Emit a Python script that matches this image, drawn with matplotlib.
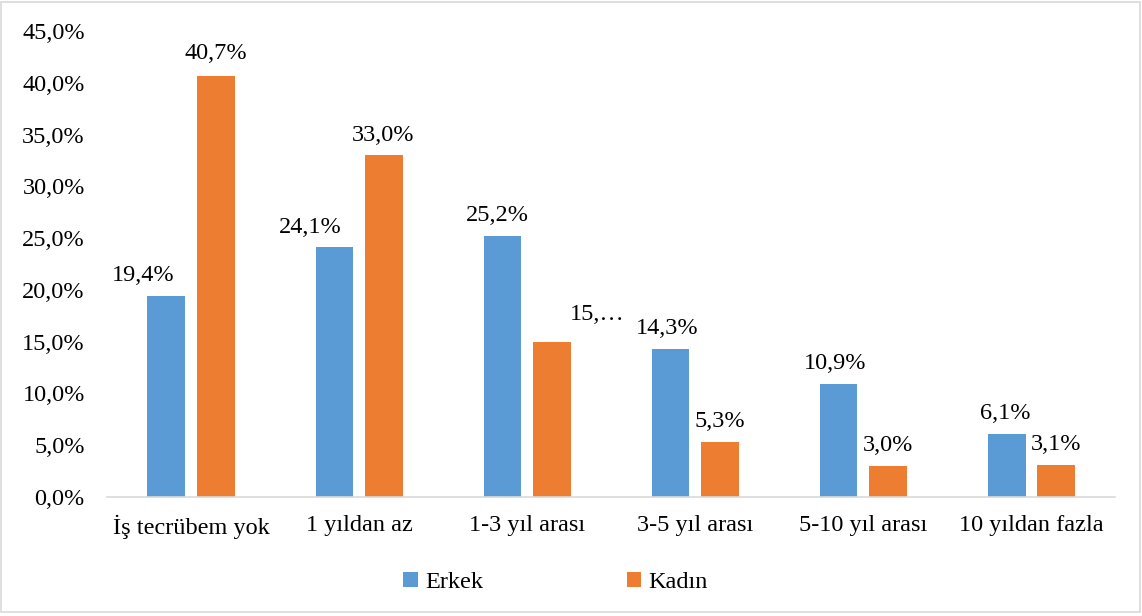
import matplotlib
matplotlib.use("Agg")
import matplotlib.pyplot as plt
from matplotlib.patches import Rectangle
import numpy as np

kategoriler = ["İş tecrübem yok", "1 yıldan az", "1-3 yıl arası",
               "3-5 yıl arası", "5-10 yıl arası", "10 yıldan fazla"]
erkek = [19.4, 24.1, 25.2, 14.3, 10.9, 6.1]
kadin = [40.7, 33.0, 15.0, 5.3, 3.0, 3.1]
erkek_etiket = ["19,4%", "24,1%", "25,2%", "14,3%", "10,9%", "6,1%"]
kadin_etiket = ["40,7%", "33,0%", "15,…", "5,3%", "3,0%", "3,1%"]
y_ticks = [0, 5, 10, 15, 20, 25, 30, 35, 40, 45]

plt.rcParams['font.family'] = ['Liberation Serif', 'DejaVu Serif']
fs = 17.5
mavi = '#5B9BD5'
turuncu = '#ED7D31'

fig = plt.figure(figsize=(11.42, 6.16), dpi=100)
ax = fig.add_axes([0.0937, 0.1932, 0.8827, 0.7565])

x = np.arange(len(kategoriler))
w = 0.226
off = 0.146
ax.bar(x - off, erkek, w, color=mavi, label='Erkek')
ax.bar(x + off, kadin, w, color=turuncu, label='Kadın')

# etiketlerin elle kaydirilmasi (orijinaldeki gibi)
erkek_dx = [-0.137, -0.143, -0.03, -0.018, -0.018, -0.006]
kadin_dx = [0.0, 0.0, 0.27, 0.0, 0.0, 0.0]
kadin_dy = [8, 7, 12, 7, 7, 7]

for i in range(len(x)):
    ax.annotate(erkek_etiket[i], (x[i] - off + erkek_dx[i], erkek[i]), xytext=(0, 7),
                textcoords='offset points', ha='center', va='bottom', fontsize=fs)
    ax.annotate(kadin_etiket[i], (x[i] + off + kadin_dx[i], kadin[i]), xytext=(0, kadin_dy[i]),
                textcoords='offset points', ha='center', va='bottom', fontsize=fs)

ax.set_xlim(-0.5, len(x) - 0.5)
ax.set_ylim(0, 45)
ax.set_yticks(y_ticks)
ax.set_yticklabels([f"{v:.1f}%".replace('.', ',') for v in y_ticks], fontsize=fs)
ax.set_xticks(x)
ax.set_xticklabels(kategoriler, fontsize=fs)
ax.tick_params(axis='y', length=0, pad=16)
ax.tick_params(axis='x', length=0, pad=13)
for s in ['top', 'right', 'left']:
    ax.spines[s].set_visible(False)
ax.spines['bottom'].set_color('#D9D9D9')
ax.spines['bottom'].set_linewidth(1.2)

ax.legend(loc='center', bbox_to_anchor=(0.445, -0.183), ncol=2, frameon=False,
          fontsize=fs, handlelength=0.6, handleheight=0.6, handletextpad=0.3,
          columnspacing=5.9, bbox_transform=ax.transAxes)

fig.patches.append(Rectangle((0.001, 0.006), 0.997, 0.991, transform=fig.transFigure,
                             fill=False, edgecolor='#D9D9D9', linewidth=1.2))

plt.savefig('out.png', dpi=100)
plt.close()
